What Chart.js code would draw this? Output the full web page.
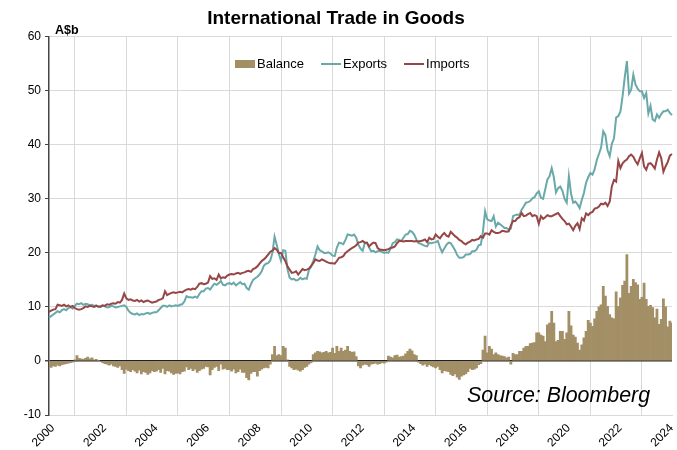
<!DOCTYPE html>
<html>
<head>
<meta charset="utf-8">
<script src="https://cdn.jsdelivr.net/npm/chart.js@4.4.1/dist/chart.umd.min.js"></script>
<style>
    body { margin: 0; background: #fff; font-family: "Liberation Sans", Arial, sans-serif; }
    #wrap { position: relative; width: 677px; height: 450px; }
    .unit { position: absolute; left: 55px; top: 23px; font-size: 12.5px; font-weight: bold; color: #000; }
    .legend { position: absolute; left: 235px; top: 56px; font-size: 13px; color: #000; display: flex; align-items: center; }
    .legend span.item { display: flex; align-items: center; margin-right: 17px; }
    .legend i { display: inline-block; width: 20px; margin-right: 2px; }
    .source { position: absolute; left: 467px; top: 383px; font-size: 21.4px; font-style: italic; color: #000; }
</style>
</head>
<body>
<div id="wrap">
    <canvas id="tradeChart"></canvas>
    <div class="unit">A$b</div>
    <div class="legend">
        <span class="item"><i style="height:8px;background:#a38f66"></i>Balance</span>
        <span class="item"><i style="height:2px;background:#6aa9a9"></i>Exports</span>
        <span class="item"><i style="height:2px;background:#964646"></i>Imports</span>
    </div>
    <div class="source">Source: Bloomberg</div>
</div>
<script>
// monthly, Jan 2000 .. Mar 2024, A$b
const startYear = 2000;

const exportsData = [
    8.0, 8.3, 8.6, 8.9, 9.2, 9.0, 9.4, 9.6, 9.4, 9.8, 10.0, 9.7,
    10.2, 10.6, 10.5, 10.7, 10.4, 10.6, 10.5, 10.3, 10.4, 10.2, 10.3, 10.0,
    10.0, 10.2, 10.1, 9.9, 10.0, 10.2, 10.1, 9.9, 10.0, 10.1, 10.2, 10.3,
    10.0, 9.3, 8.9, 8.7, 8.6, 8.8, 8.5, 8.7, 8.6, 8.8, 8.9, 8.7,
    8.9, 9.0, 9.0, 9.4, 9.8, 10.2, 10.2, 10.0, 10.3, 10.1, 10.2, 10.3,
    10.2, 10.4, 10.5, 11.0, 12.0, 11.8, 11.8, 11.7, 11.9, 11.7, 12.4, 12.9,
    12.9, 13.4, 13.5, 13.2, 13.8, 14.3, 14.1, 14.4, 14.8, 14.1, 14.0, 14.3,
    14.4, 14.2, 14.5, 14.0, 14.3, 14.6, 14.2, 14.3, 13.5, 13.2, 14.2, 15.0,
    15.3, 15.6, 16.0, 16.6, 17.6, 18.0, 18.1, 18.6, 20.0, 23.0, 21.5, 19.8,
    18.5, 20.5, 20.4, 17.0, 15.4, 15.1, 15.2, 14.9, 15.0, 15.4, 15.1, 15.3,
    15.2, 16.9, 17.4, 18.5, 19.7, 21.2, 20.5, 20.3, 20.0, 20.0, 20.1, 19.9,
    19.5, 19.4, 21.0, 21.9, 21.8, 21.6, 22.4, 23.4, 23.3, 23.2, 23.4, 22.8,
    21.5, 20.8, 20.4, 21.8, 21.9, 21.0, 20.3, 20.4, 20.1, 20.3, 20.4, 20.2,
    20.0, 20.1, 20.0, 20.8, 21.8, 22.0, 22.5, 22.4, 22.2, 22.8, 23.4, 23.5,
    24.1, 23.9, 23.4, 22.5, 21.8, 21.7, 21.5, 21.3, 21.2, 21.9, 21.8, 21.9,
    22.0, 22.2, 21.0, 20.1, 20.8, 21.5, 21.9, 21.8, 21.2, 20.5, 19.6, 19.1,
    19.1, 19.2, 19.7, 19.7, 19.8, 20.3, 20.3, 20.6, 21.4, 21.5, 24.0, 27.7,
    26.2, 26.0, 25.9, 26.8, 24.9, 25.6, 25.3, 25.0, 24.6, 24.6, 24.3, 24.5,
    26.8, 27.0, 27.1, 27.0, 28.0, 28.6, 29.3, 29.4, 29.6, 30.1, 30.3, 31.0,
    31.4, 30.2, 30.0, 31.8, 33.6, 34.2, 35.7, 34.0, 31.2, 32.0, 32.3, 31.5,
    30.0, 29.3, 34.2, 31.0, 29.3, 29.5, 29.0, 28.3, 29.8, 31.1, 33.0, 34.0,
    34.8, 34.5, 35.5, 37.2, 38.3, 39.5, 42.5, 41.8, 39.0, 37.9, 40.2, 41.2,
    45.1, 45.3, 46.2, 49.0, 52.5, 55.5, 49.5, 50.2, 53.0, 51.2, 50.4, 49.9,
    49.9, 48.7, 49.6, 45.8, 47.2, 44.7, 44.4, 45.6, 45.0, 45.7, 46.2, 46.2,
    46.5, 45.9, 45.5
];

const importsData = [
    9.1, 9.3, 9.5, 9.6, 10.4, 10.3, 10.2, 10.4, 10.1, 10.3, 10.0, 10.2,
    9.8, 9.6, 9.5, 9.6, 9.8, 10.1, 10.0, 10.2, 10.1, 10.0, 10.2, 10.1,
    10.1, 10.3, 10.2, 10.5, 10.4, 10.6, 10.7, 10.6, 10.9, 10.8, 11.3, 12.5,
    11.6, 11.3, 11.4, 11.2, 11.1, 11.3, 11.0, 11.2, 10.9, 11.1, 11.2, 11.0,
    10.8, 10.9, 11.0, 11.3, 11.4, 11.6, 12.9, 12.2, 12.4, 12.6, 12.7, 12.6,
    12.7, 12.8, 12.7, 13.0, 13.2, 13.3, 13.2, 13.4, 13.3, 13.7, 14.3, 14.4,
    14.2, 14.3, 14.5, 15.7, 15.2, 15.3, 15.0, 16.0, 15.3, 15.5, 15.4, 15.8,
    16.0, 16.1, 16.0, 16.2, 16.3, 16.1, 16.3, 16.4, 16.6, 16.7, 16.5, 17.0,
    17.2, 17.5, 18.0, 18.5, 18.8, 19.2, 19.7, 20.2, 20.4, 20.9, 20.6, 20.0,
    20.0, 19.2, 18.5, 17.5, 16.9, 16.3, 16.4, 16.6, 16.0, 16.5, 17.0, 16.8,
    16.9, 17.1, 17.6, 18.1, 18.8, 18.6, 18.5, 18.8, 18.6, 18.4, 18.2, 18.1,
    18.1, 18.0, 18.5, 19.1, 19.2, 19.4, 20.0, 20.3, 20.6, 20.9, 21.1, 21.4,
    21.9, 22.0, 22.2, 21.9, 21.9, 21.2, 21.6, 21.9, 21.8, 20.9, 20.6, 20.6,
    20.5, 20.6, 20.7, 20.9, 21.0, 21.2, 21.8, 22.2, 22.2, 22.1, 22.2, 22.2,
    22.2, 22.2, 22.1, 22.2, 22.1, 22.2, 22.3, 22.5, 22.0, 22.8, 22.5, 22.6,
    23.4, 23.0, 22.7, 23.3, 23.7, 23.2, 23.0, 23.9, 23.5, 23.1, 22.8, 22.4,
    22.2, 21.8, 21.6, 21.9, 22.1, 22.4, 22.3, 22.5, 22.6, 23.1, 22.8, 23.6,
    23.6, 23.4, 24.2, 23.9, 23.7, 23.7, 23.8, 24.1, 24.0, 23.9, 24.0, 25.1,
    25.9, 25.9, 26.4, 26.6, 27.4, 26.8, 26.9, 27.2, 27.4, 26.8, 27.0, 26.8,
    25.4, 26.8, 26.3, 26.6, 27.0, 26.8, 26.8, 27.0, 27.2, 27.4, 26.8, 26.3,
    25.9, 25.3, 25.4, 24.9, 24.2, 25.0, 25.5, 24.4, 26.4, 26.0, 27.3, 27.0,
    27.4, 27.6, 28.2, 28.3, 28.6, 29.1, 29.0, 29.3, 28.7, 29.5, 32.3, 33.5,
    33.2, 37.0, 35.7, 36.6, 37.0, 37.3, 37.9, 38.2, 37.8, 37.0, 36.4, 37.5,
    38.5, 36.0, 35.4, 36.5, 36.6, 36.2, 35.6, 37.3, 38.6, 37.5, 35.0, 36.0,
    36.8, 38.0, 38.3
];

const balanceData = [
    -1.0, -1.2, -0.9, -1.0, -0.8, -0.9, -0.7, -0.6, -0.5, -0.4, -0.3, -0.2,
    0.2, 1.0, 0.5, 0.4, 0.3, 0.5, 0.7, 0.4, 0.6, 0.2, 0.3, 0.1,
    -0.1, -0.3, -0.5, -0.6, -0.8, -0.6, -0.9, -1.0, -1.2, -0.9, -1.6, -2.3,
    -1.5, -1.8, -2.0, -1.6, -1.9, -2.2, -1.7, -2.4, -2.0, -2.1, -2.5, -2.2,
    -1.8, -2.0, -1.9, -1.6, -2.1, -1.4, -2.4, -1.8, -1.9, -2.2, -2.5, -2.3,
    -2.2, -2.4, -2.0, -1.9, -1.1, -1.6, -1.4, -1.8, -1.5, -2.1, -1.8, -1.5,
    -1.4, -1.0, -1.1, -2.6, -1.6, -1.2, -1.0, -1.8, -0.6, -1.5, -1.4, -1.6,
    -1.6, -1.9, -1.5, -2.2, -2.0, -1.5, -2.1, -2.1, -3.1, -3.5, -2.3, -2.0,
    -2.0, -2.8, -1.8, -1.5, -1.3, -1.2, -1.3, -0.6, 1.2, 2.7, 1.0, 1.2,
    1.0, 2.7, 2.4, 0.2, -1.0, -1.3, -1.6, -1.5, -1.7, -1.9, -1.6, -1.2,
    -1.0, -0.6, -0.3, 1.2, 1.5, 1.8, 1.7, 1.5, 1.6, 1.8, 1.5, 1.6,
    2.4, 1.4, 2.7, 1.8, 2.4, 1.8, 2.0, 2.7, 1.8, 1.6, 1.7, 0.8,
    -0.9, -1.3, -0.8, -0.6, -0.7, -1.0, -0.6, -0.5, -0.4, -0.6, -0.5, -0.3,
    -0.4, -0.2, 0.9, 0.7, 0.6, 1.0, 1.1, 0.7, 0.8, 0.9, 1.3, 1.8,
    2.2, 1.9, 1.2, 1.0, -0.2, -0.5, -0.8, -0.6, -1.0, -0.7, -0.9, -1.1,
    -1.3, -1.0, -1.6, -2.2, -1.8, -1.9, -2.0, -2.5, -2.7, -2.4, -3.0, -3.4,
    -2.8, -2.6, -2.4, -2.0, -1.4, -1.6, -1.5, -1.3, -0.7, -0.5, 2.0, 4.6,
    1.5, 2.7, 2.2, 1.2, 1.5, 1.2, 1.0, 0.9, 0.8, 0.6, 0.7, -0.6,
    1.4, 1.2, 1.2, 1.8, 1.8, 2.4, 2.7, 2.7, 3.2, 3.3, 3.4, 5.2,
    5.2, 4.8, 4.6, 3.6, 6.7, 7.0, 9.2, 7.0, 3.6, 3.8, 5.5, 5.5,
    4.0, 5.2, 9.2, 6.5, 4.8, 4.4, 3.3, 2.0, 3.0, 4.3, 5.5, 7.5,
    7.0, 6.4, 7.8, 9.2, 10.0, 10.4, 13.8, 12.0, 10.1, 8.6, 8.0, 7.8,
    12.8, 10.1, 11.7, 14.0, 14.8, 19.7, 12.5, 13.8, 15.1, 14.5, 14.1, 11.4,
    11.8, 14.4, 11.4, 10.1, 10.3, 9.9, 8.0, 9.6, 6.8, 7.7, 11.5, 10.0,
    6.3, 7.4, 7.0
];

const yTicks = { min: -10, max: 60, step: 10 };

// one label per month, "2000-01" ...
const months = exportsData.map((_, i) =>
    (startYear + Math.floor(i / 12)) + '-' + String(i % 12 + 1).padStart(2, '0'));

Chart.defaults.font.family = '"Liberation Sans", Arial, sans-serif';
Chart.defaults.color = '#000';

new Chart(document.getElementById('tradeChart'), {
    data: {
        labels: months,
        datasets: [
            {
                type: 'bar',
                label: 'Balance',
                data: balanceData,
                backgroundColor: '#a38f66',
                barPercentage: 1,
                categoryPercentage: 1,
                order: 3
            },
            {
                type: 'line',
                label: 'Exports',
                data: exportsData,
                borderColor: '#6aa9a9',
                borderWidth: 2,
                pointRadius: 0,
                tension: 0,
                order: 2
            },
            {
                type: 'line',
                label: 'Imports',
                data: importsData,
                borderColor: '#964646',
                borderWidth: 2,
                pointRadius: 0,
                tension: 0,
                order: 1
            }
        ]
    },
    options: {
        responsive: true,
        maintainAspectRatio: false,
        animation: false,
        layout: { padding: { left: 0, right: 5, top: 0, bottom: 0 } },
        plugins: {
            legend: { display: false },
            tooltip: { enabled: false },
            title: {
                display: true,
                text: 'International Trade in Goods',
                font: { size: 19, weight: 'bold' },
                color: '#000',
                padding: { top: 7, bottom: 7 }
            }
        },
        scales: {
            x: {
                offset: false,
                grid: { color: '#d9d9d9', drawTicks: false },
                border: { color: '#d9d9d9' },
                ticks: {
                    autoSkip: false,
                    maxRotation: 45,
                    minRotation: 45,
                    padding: 6,
                    labelOffset: 4,
                    font: { size: 12 },
                    callback: function (value) {
                        const lab = this.getLabelForValue(value);
                        const year = +lab.slice(0, 4);
                        return (lab.endsWith('-01') && year % 2 === 0) ? String(year) : null;
                    }
                },
                afterFit: scale => {
                    scale.height = 35;
                    scale.paddingLeft = 0;
                    scale.paddingRight = 0;
                }
            },
            y: {
                min: yTicks.min,
                max: yTicks.max,
                ticks: { stepSize: yTicks.step, font: { size: 12 }, padding: 4 },
                grid: {
                    color: ctx => ctx.tick && ctx.tick.value === 0 ? '#222' : '#d9d9d9',
                    lineWidth: ctx => ctx.tick && ctx.tick.value === 0 ? 1.5 : 1,
                    tickColor: '#444',
                    tickLength: 4
                },
                border: { color: '#444', width: 1.5 },
                afterFit: scale => { scale.width = 49; }
            }
        }
    }
});
</script>
</body>
</html>
